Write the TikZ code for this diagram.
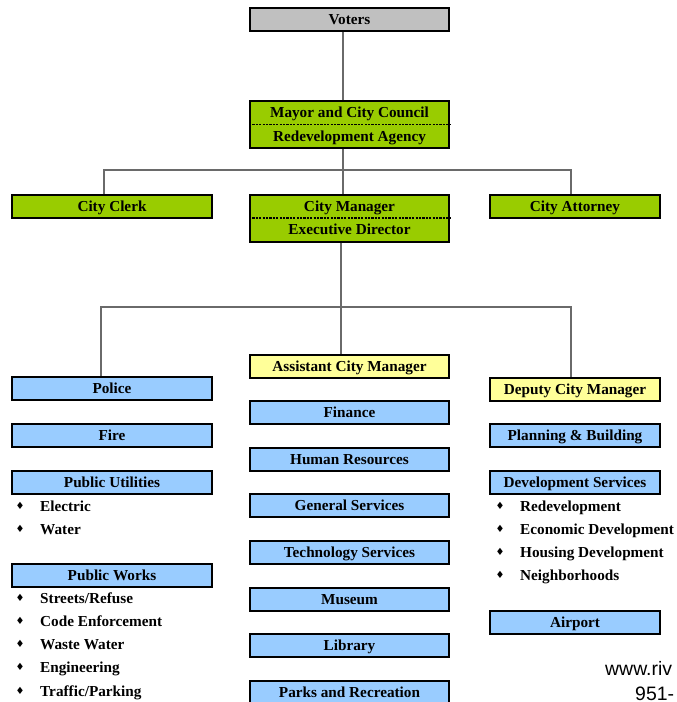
\documentclass[tikz,border=0pt]{standalone}
\usepackage{fontspec}
\setmainfont{Liberation Serif}
\newfontfamily\symfont{DejaVu Sans}
\newfontfamily\webfont{Liberation Sans}
\definecolor{grn}{HTML}{99CC00}
\definecolor{blu}{HTML}{99CCFF}
\definecolor{yel}{HTML}{FFFF99}
\definecolor{gry}{HTML}{C0C0C0}
\definecolor{conn}{HTML}{6A6A6A}
\begin{document}
\begin{tikzpicture}[x=1bp,y=-1bp,
  box/.style={draw=black, line width=2bp, minimum width=199bp, minimum height=23bp,
    inner sep=0pt, font=\bfseries\fontsize{15.3}{18}\selectfont, text height=10.1bp, text depth=0bp},
  narrow/.style={minimum width=170bp},
  tall/.style={minimum height=47bp},
  lbl/.style={inner sep=0pt, font=\bfseries\fontsize{15.3}{18}\selectfont, text height=10.1bp, text depth=0bp},
  item/.style={inner sep=0pt, anchor=base west, font=\bfseries\fontsize{15.3}{18}\selectfont},
  bul/.style={inner sep=0pt, font=\symfont\fontsize{10}{10}\selectfont, text height=6bp, text depth=0bp},
  sep/.style={black, line width=1.4bp, dash pattern=on 2.2bp off 1.2bp},
  web/.style={inner sep=0pt, anchor=base west, font=\webfont\fontsize{19.5}{22}\selectfont},
  link/.style={conn, line width=1.2bp}]
\useasboundingbox[fill=white] (0,0) rectangle (677,702);

% top chain
\node[box, fill=gry] (voters) at (349.5,19.5) {Voters};
\node[box, fill=grn, tall] (mayor) at (349.5,124.5) {};
\node[lbl] (mayorA) at (349.5,112.5) {Mayor and City Council};
\node[lbl] (mayorB) at (349.5,136) {Redevelopment Agency};
\draw[sep] (mayor.west) -- (mayor.east);

\node[box, fill=grn] (clerk) at (112,206.5) {City Clerk};
\node[box, fill=grn, tall] (cm) at (349.5,218) {};
\node[lbl] (cmA) at (349.5,206.5) {City Manager};
\node[lbl] (cmB) at (349.5,229.5) {Executive Director};
\draw[sep] (cm.west) -- (cm.east);
\node[box, fill=grn, narrow] (atty) at (575,206.5) {City Attorney};

% second level
\node[box, fill=blu] (police) at (112,388.5) {Police};
\node[box, fill=yel] (acm) at (349.5,366) {Assistant City Manager};
\node[box, fill=yel, narrow] (dcm) at (575,389.5) {Deputy City Manager};

% left column
\node[box, fill=blu] (fire) at (112,435.5) {Fire};
\node[box, fill=blu] (pu) at (112,482.5) {Public Utilities};
\node[box, fill=blu] (pw) at (112,575.5) {Public Works};

% middle column
\node[box, fill=blu] (fin) at (349.5,412.5) {Finance};
\node[box, fill=blu] (hr) at (349.5,459) {Human Resources};
\node[box, fill=blu] (gs) at (349.5,505.5) {General Services};
\node[box, fill=blu] (tech) at (349.5,552.5) {Technology Services};
\node[box, fill=blu] (mus) at (349.5,599) {Museum};
\node[box, fill=blu] (lib) at (349.5,645.5) {Library};
\node[box, fill=blu] (parks) at (349.5,692.5) {Parks and Recreation};

% right column
\node[box, fill=blu, narrow] (plan) at (575,435.5) {Planning \& Building};
\node[box, fill=blu, narrow] (dev) at (575,482.5) {Development Services};
\node[box, fill=blu, narrow] (air) at (575,622.5) {Airport};

% bullet lists
\foreach \y/\t/\n in {506/Electric/e1, 529/Water/e2,
    598/Streets\slash Refuse/w1, 621.5/Code Enforcement/w2, 644.5/Waste Water/w3,
    667.5/Engineering/w4, 691/Traffic\slash Parking/w5} {
  \node[bul] (b\n) at (20,\y) {♦};
  \node[item] (i\n) at (40,\y+5.3) {\t};
}
\foreach \y/\t/\n in {506/Redevelopment/d1, 529/Economic Development/d2,
    552/Housing Development/d3, 575.5/Neighborhoods/d4} {
  \node[bul] (b\n) at (500,\y) {♦};
  \node[item] (i\n) at (520,\y+5.3) {\t};
}

% web text
\node[web] (webtxt) at (605,675.5) {www.riv};
\node[web] (tel) at (635,700) {951-};

% connectors
\coordinate (t1) at (343,0);
\coordinate (t2) at (341,0);
\coordinate (h1) at (0,170);
\coordinate (h2) at (0,307);
\coordinate (cl) at (104,0);
\coordinate (at) at (571,0);
\coordinate (pl) at (101,0);
\draw[link] (voters.south -| t1) -- (mayor.north -| t1);
\draw[link] (mayor.south -| t1) -- (cm.north -| t1);
\draw[link] (clerk.north -| cl) -- (h1 -| cl) -- (h1 -| at) -- (atty.north -| at);
\draw[link] (cm.south -| t2) -- (acm.north -| t2);
\draw[link] (police.north -| pl) -- (h2 -| pl) -- (h2 -| at) -- (dcm.north -| at);
\end{tikzpicture}
\end{document}
